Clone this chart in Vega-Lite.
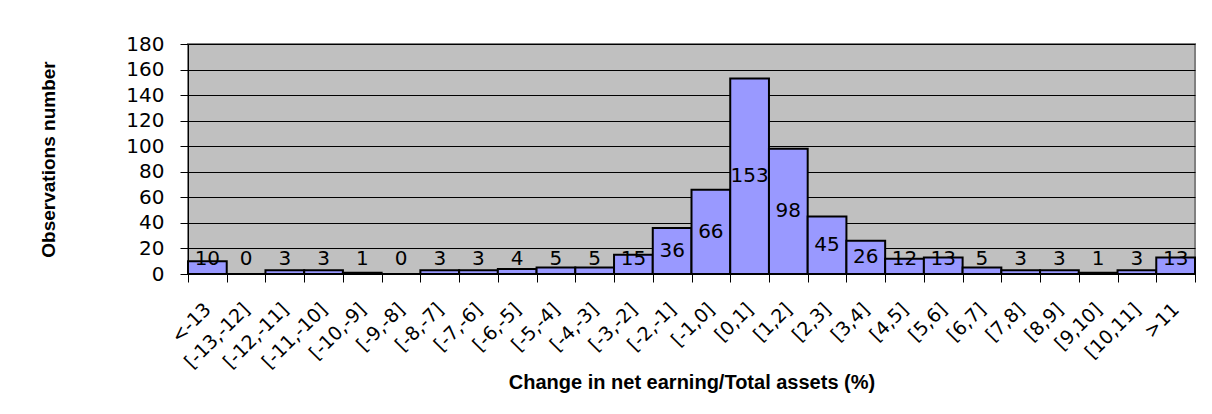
{
  "$schema": "https://vega.github.io/schema/vega-lite/v6.json",
  "autosize": "none",
  "width": 1007,
  "height": 230,
  "padding": {"left": 188, "top": 44, "right": 17, "bottom": 140},
  "background": "white",
  "config": {
    "font": "DejaVu Sans",
    "view": {"fill": "#C0C0C0", "stroke": "#808080", "strokeWidth": 2},
    "axisY": {
      "titleFont": "Liberation Sans",
      "titleFontSize": 19,
      "titleFontWeight": "bold",
      "titleColor": "black",
      "titleX": -130,
      "labelOverlap": false,
      "labelFontSize": 20,
      "labelColor": "black",
      "labelPadding": 16,
      "tickSize": 8,
      "tickColor": "black",
      "domainColor": "black",
      "grid": true,
      "gridColor": "black",
      "gridWidth": 1,
      "gridOpacity": 1
    }
  },
  "data": {
    "values": [
      {"bin": "<-13", "count": 10},
      {"bin": "[-13,-12]", "count": 0},
      {"bin": "[-12,-11]", "count": 3},
      {"bin": "[-11,-10]", "count": 3},
      {"bin": "[-10,-9]", "count": 1},
      {"bin": "[-9,-8]", "count": 0},
      {"bin": "[-8,-7]", "count": 3},
      {"bin": "[-7,-6]", "count": 3},
      {"bin": "[-6,-5]", "count": 4},
      {"bin": "[-5,-4]", "count": 5},
      {"bin": "[-4,-3]", "count": 5},
      {"bin": "[-3,-2]", "count": 15},
      {"bin": "[-2,-1]", "count": 36},
      {"bin": "[-1,0]", "count": 66},
      {"bin": "[0,1]", "count": 153},
      {"bin": "[1,2]", "count": 98},
      {"bin": "[2,3]", "count": 45},
      {"bin": "[3,4]", "count": 26},
      {"bin": "[4,5]", "count": 12},
      {"bin": "[5,6]", "count": 13},
      {"bin": "[6,7]", "count": 5},
      {"bin": "[7,8]", "count": 3},
      {"bin": "[8,9]", "count": 3},
      {"bin": "[9,10]", "count": 1},
      {"bin": "[10,11]", "count": 3},
      {"bin": ">11", "count": 13}
    ]
  },
  "encoding": {
    "x": {
      "field": "bin",
      "type": "nominal",
      "sort": null,
      "scale": {"paddingInner": 0, "paddingOuter": 0},
      "axis": {
        "title": "Change in net earning/Total assets (%)",
        "titleFont": "Liberation Sans",
        "titleFontSize": 20,
        "titleFontWeight": "bold",
        "titleColor": "black",
        "titleY": 98,
        "titleBaseline": "top",
        "labelAngle": -45,
        "labelAlign": "right",
        "labelBaseline": "middle",
        "labelFontSize": 19,
        "labelColor": "black",
        "labelPadding": 24,
        "tickSize": 8,
        "tickColor": "black",
        "tickBand": "extent",
        "domainColor": "black",
        "grid": false,
        "labelOverlap": false
      }
    }
  },
  "layer": [
    {
      "mark": {"type": "bar", "fill": "#9999FF", "stroke": "black", "strokeWidth": 2},
      "encoding": {
        "y": {
          "field": "count",
          "type": "quantitative",
          "scale": {"domain": [0, 180], "nice": false},
          "axis": {
            "title": "Observations number",
            "values": [0, 20, 40, 60, 80, 100, 120, 140, 160, 180]
          }
        }
      }
    },
    {
      "transform": [{"calculate": "max(datum.count / 2, 12)", "as": "labelPos"}],
      "mark": {"type": "text", "fontSize": 20, "color": "black", "baseline": "middle", "align": "center"},
      "encoding": {
        "y": {
          "field": "labelPos",
          "type": "quantitative",
          "scale": {"domain": [0, 180], "nice": false},
          "axis": {
            "title": "Observations number",
            "values": [0, 20, 40, 60, 80, 100, 120, 140, 160, 180]
          }
        },
        "text": {"field": "count", "type": "quantitative"}
      }
    }
  ]
}
